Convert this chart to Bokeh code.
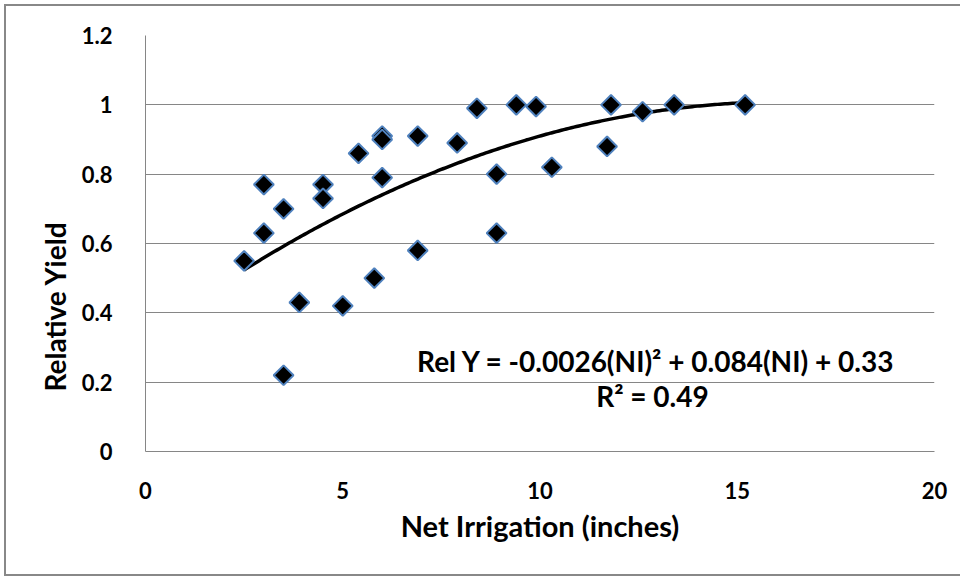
import numpy as np
from bokeh.plotting import figure
from bokeh.models import Label, FixedTicker, Range1d, Title
from bokeh.embed import file_html
from bokeh.resources import INLINE

# Data
net_irrigation = [2.5, 3.0, 3.0, 3.5, 3.5, 3.9, 4.5, 4.5, 5.0, 5.4, 6.0, 6.0, 6.0, 5.8,
                  6.9, 6.9, 7.9, 8.4, 8.9, 8.9, 9.4, 9.9, 10.3, 11.8, 11.7, 12.6, 13.4, 15.2]
relative_yield = [0.55, 0.63, 0.77, 0.70, 0.22, 0.43, 0.77, 0.73, 0.42, 0.86, 0.91, 0.90, 0.79, 0.50,
                  0.91, 0.58, 0.89, 0.99, 0.80, 0.63, 1.00, 0.995, 0.82, 1.00, 0.88, 0.98, 1.00, 1.00]

# Trendline coefficients (as printed on the chart)
coef_a, coef_b, coef_c = -0.0026, 0.084, 0.33
equation_text = "Rel Y = -0.0026(NI)\u00b2 + 0.084(NI) + 0.33"
r2_text = "R\u00b2 = 0.49"

y_ticks = [0, 0.2, 0.4, 0.6, 0.8, 1.0, 1.2]
y_tick_labels = ["0", "0.2", "0.4", "0.6", "0.8", "1", "1.2"]
x_ticks = [0, 5, 10, 15, 20]
x_tick_labels = ["0", "5", "10", "15", "20"]

FONT = "Lato"

p = figure(width=956, height=572, output_backend="svg", toolbar_location=None,
           x_range=Range1d(0, 20), y_range=Range1d(0, 1.2),
           min_border_left=139, min_border_right=28, min_border_top=29, min_border_bottom=127)
p.styles = {"border-left": "2px solid #888888", "border-top": "2px solid #888888",
            "border-bottom": "2px solid #888888", "margin-left": "4px", "margin-top": "4px"}
p.outline_line_color = None
p.background_fill_color = "white"
p.border_fill_color = "white"

# Grid
p.xgrid.grid_line_color = None
p.ygrid.grid_line_color = "#868686"
p.ygrid.grid_line_width = 1
p.ygrid.ticker = FixedTicker(ticks=y_ticks)

# Axes
p.yaxis.ticker = FixedTicker(ticks=y_ticks)
p.yaxis.major_label_overrides = {t: l for t, l in zip(y_ticks, y_tick_labels)}
p.xaxis.ticker = FixedTicker(ticks=x_ticks)
p.xaxis.major_label_overrides = {t: l for t, l in zip(x_ticks, x_tick_labels)}
for ax in (p.xaxis[0], p.yaxis[0]):
    ax.axis_line_color = "#868686"
    ax.major_tick_line_color = None
    ax.minor_tick_line_color = None
    ax.major_label_text_font = FONT
    ax.major_label_text_font_style = "bold"
    ax.major_label_text_font_size = "22px"
    ax.major_label_text_color = "black"
p.yaxis.major_label_standoff = 27
p.xaxis.major_label_standoff = 24

p.xaxis.axis_label = "Net Irrigation (inches)"
p.xaxis.axis_label_text_font = FONT
p.xaxis.axis_label_text_font_style = "bold"
p.xaxis.axis_label_text_font_size = "29px"
p.xaxis.axis_label_text_color = "black"
p.xaxis.axis_label_standoff = 6

# Y title placed lower than frame centre, like the original
p.add_layout(Title(text="Relative Yield", align="left", offset=60, standoff=14,
                   text_font=FONT, text_font_style="bold", text_font_size="28px",
                   text_color="black"), "left")

# Trendline
xs = np.linspace(min(net_irrigation), max(net_irrigation), 200)
ys = coef_a * xs ** 2 + coef_b * xs + coef_c
p.line(xs, ys, line_color="black", line_width=3.5)

# Points
p.scatter(net_irrigation, relative_yield, marker="square", angle=np.pi / 4, size=14,
          fill_color="black", line_color="#4F81BD", line_width=2)

# Equation labels
p.add_layout(Label(x=12.95, y=0.262, text=equation_text, text_font=FONT,
                   text_font_style="bold", text_font_size="28px", text_align="center",
                   text_baseline="middle", text_color="black"))
p.add_layout(Label(x=12.85, y=0.16, text=r2_text, text_font=FONT,
                   text_font_style="bold", text_font_size="28px", text_align="center",
                   text_baseline="middle", text_color="black"))

open("out.html", "w").write(file_html(p, INLINE))
